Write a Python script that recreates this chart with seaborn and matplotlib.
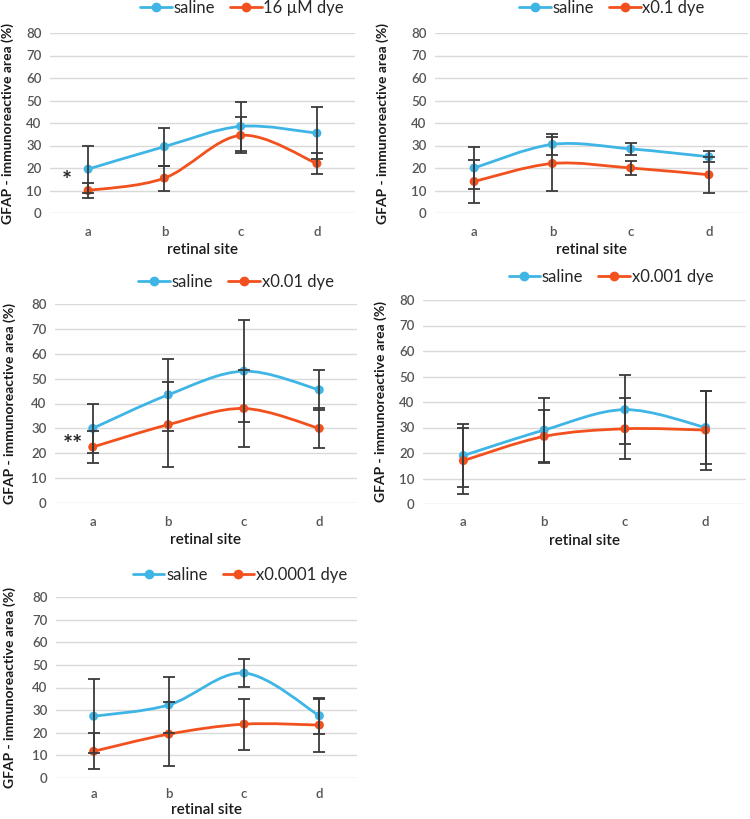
import numpy as np
import pandas as pd
import matplotlib
matplotlib.use('Agg')
import matplotlib.pyplot as plt
import seaborn as sns
from matplotlib.path import Path
from matplotlib.patches import PathPatch
from matplotlib.lines import Line2D

sns.set_style('white')
plt.rcParams['font.family'] = ['Lato', 'DejaVu Sans']

# data
sites = ['a', 'b', 'c', 'd']

saline_16uM = [19.5, 29.5, 38.5, 35.5]
saline_16uM_err = [10.5, 8.5, 11.0, 11.5]
dye_16uM = [10.0, 15.5, 34.5, 22.0]
dye_16uM_err = [3.5, 5.5, 8.0, 4.5]

saline_01 = [20.0, 30.5, 28.5, 25.0]
saline_01_err = [9.5, 4.5, 2.5, 2.5]
dye_01 = [14.0, 22.0, 20.0, 17.0]
dye_01_err = [9.5, 12.0, 3.0, 8.0]

saline_001 = [30.0, 43.5, 53.0, 45.5]
saline_001_err = [10.0, 14.5, 20.5, 8.0]
dye_001 = [22.5, 31.5, 38.0, 30.0]
dye_001_err = [6.5, 17.0, 15.5, 8.0]

saline_0001 = [19.0, 29.0, 37.0, 30.0]
saline_0001_err = [12.5, 12.5, 13.5, 14.5]
dye_0001 = [17.0, 26.5, 29.5, 29.0]
dye_0001_err = [13.0, 10.5, 12.0, 15.5]

saline_00001 = [27.3, 32.3, 46.4, 27.5]
saline_00001_err = [16.3, 12.4, 6.3, 8.0]
dye_00001 = [11.8, 19.4, 23.8, 23.4]
dye_00001_err = [7.9, 14.0, 11.3, 11.7]

BLUE = '#3fb5e6'
ORANGE = '#f2511e'
W, H = 750, 819


def smooth_path(xs, ys):
    # excel-style smoothed line: cubic bezier through each point
    p = np.column_stack([xs, ys]).astype(float)
    p_ext = np.vstack([p[0], p, p[-1]])
    verts = [p[0]]
    codes = [Path.MOVETO]
    for i in range(len(p) - 1):
        p0, p1, p2, p3 = p_ext[i], p_ext[i + 1], p_ext[i + 2], p_ext[i + 3]
        c1 = p1 + (p2 - p0) / 6
        c2 = p2 - (p3 - p1) / 6
        verts += [c1, c2, p2]
        codes += [Path.CURVE4] * 3
    return Path(verts, codes)


def panel(box, saline, saline_err, dye, dye_err, dye_label, legend_xy, ylab_px,
          xlab_off=37, xpad=9):
    l, t, r, b = box
    ax = fig.add_axes([l / W, 1 - b / H, (r - l) / W, (b - t) / H])
    x = np.arange(len(sites))
    df = pd.DataFrame({'site': np.tile(x, 2),
                       'value': saline + dye,
                       'group': ['saline'] * 4 + [dye_label] * 4})
    for vals, col in [(saline, BLUE), (dye, ORANGE)]:
        ax.add_patch(PathPatch(smooth_path(x, vals), facecolor='none',
                               edgecolor=col, lw=2.0, zorder=3, capstyle='round'))
    sns.scatterplot(data=df, x='site', y='value', hue='group',
                    palette=[BLUE, ORANGE], s=42, edgecolor='none',
                    legend=False, ax=ax, zorder=4)
    for vals, err in [(saline, saline_err), (dye, dye_err)]:
        ax.errorbar(x, vals, yerr=err, fmt='none', ecolor='#3a3a3a',
                    elinewidth=1.3, capsize=4, capthick=1.3, zorder=5)
    ax.set_xlim(-0.5, 3.5)
    ax.set_ylim(0, 80)
    ax.set_yticks(range(0, 81, 10))
    ax.set_xticks(x)
    ax.set_xticklabels(sites)
    ax.grid(axis='y', color='#d9d9d9', lw=1.0, zorder=0)
    ax.set_axisbelow(True)
    for s in ax.spines.values():
        s.set_visible(False)
    ax.tick_params(axis='both', length=0, colors='#555555', labelsize=9.5)
    for lab in ax.get_xticklabels() + ax.get_yticklabels():
        lab.set_fontweight('semibold')
    ax.tick_params(axis='y', pad=6)
    ax.tick_params(axis='x', pad=xpad)
    ax.set_ylabel('GFAP - immunoreactive area (%)', fontsize=10, fontweight='bold', color='#1a1a1a')
    ax.yaxis.set_label_coords((ylab_px - l) / (r - l), 0.5)
    ax.yaxis.label.set_va('center')
    ax.set_xlabel('retinal site', fontsize=11, fontweight='semibold', color='#1a1a1a')
    ax.xaxis.set_label_coords(0.5, -xlab_off / (b - t))
    ax.xaxis.label.set_va('center')
    handles = [Line2D([], [], color=BLUE, lw=2.0, marker='o', ms=6),
               Line2D([], [], color=ORANGE, lw=2.0, marker='o', ms=6)]
    fig.legend(handles, ['saline', dye_label], loc='center',
               bbox_to_anchor=(legend_xy[0] / W, 1 - legend_xy[1] / H),
               ncol=2, frameon=False, fontsize=12, handlelength=1.9,
               handletextpad=0.1, columnspacing=0.9, borderpad=0)
    return ax


fig = plt.figure(figsize=(7.5, 8.19), dpi=100)

ax1 = panel((50, 33, 355, 213), saline_16uM, saline_16uM_err, dye_16uM, dye_16uM_err,
            '16 \u00b5M dye', (242, 8), 8)
ax2 = panel((435, 33, 748, 213), saline_01, saline_01_err, dye_01, dye_01_err,
            'x0.1 dye', (612, 8), 383)
ax3 = panel((55, 304, 357, 503), saline_001, saline_001_err, dye_001, dye_001_err,
            'x0.01 dye', (236, 282), 10)
ax4 = panel((423, 300, 746, 504), saline_0001, saline_0001_err, dye_0001, dye_0001_err,
            'x0.001 dye', (611, 277), 381)
ax5 = panel((56, 597, 357, 778), saline_00001, saline_00001_err, dye_00001, dye_00001_err,
            'x0.0001 dye', (240, 575), 10, xlab_off=32, xpad=7)

# significance marks
ax1.text(-0.28, 14.0, '*', fontsize=17, fontweight='bold', ha='center', va='center')
ax3.text(-0.26, 23.0, '**', fontsize=17, fontweight='bold', ha='center', va='center')

fig.savefig('out.png', dpi=100)
